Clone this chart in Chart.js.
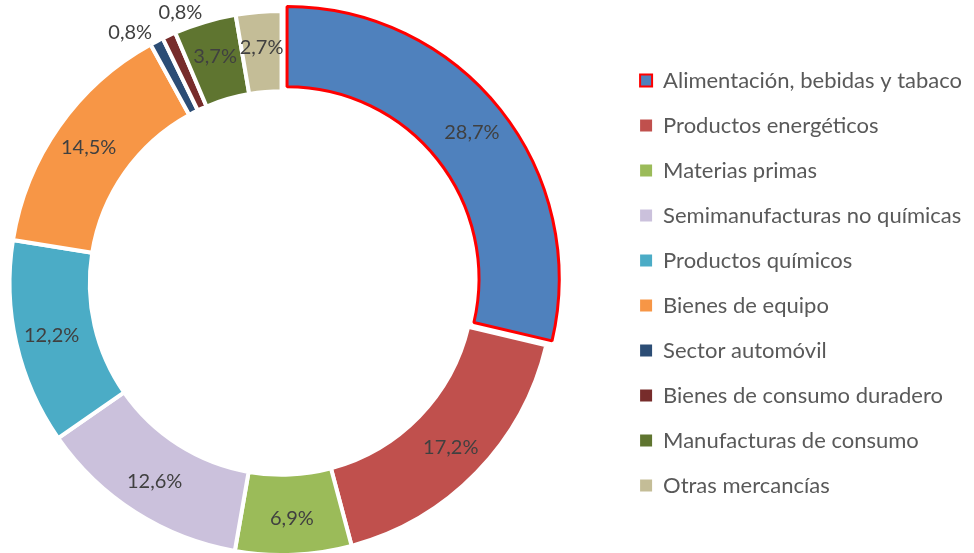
<!DOCTYPE html>
<html>
<head>
<meta charset="utf-8">
<script src="https://cdn.jsdelivr.net/npm/chart.js@4.4.1/dist/chart.umd.min.js"></script>
<style>
    html, body { margin: 0; padding: 0; background: #fff; overflow: hidden; }
    /* canvas is a bit wider than the window and pulled left, so the ring sits left of centre */
    #wrap { width: 1028px; height: 553px; position: absolute; left: -54px; top: 0; }
</style>
</head>
<body>
<div id="wrap"><canvas id="exportChart"></canvas></div>
<script>
// Export structure by product group (%)
var categories = [
    'Alimentación, bebidas y tabaco',
    'Productos energéticos',
    'Materias primas',
    'Semimanufacturas no químicas',
    'Productos químicos',
    'Bienes de equipo',
    'Sector automóvil',
    'Bienes de consumo duradero',
    'Manufacturas de consumo',
    'Otras mercancías'
];
var shares = [28.7, 17.2, 6.9, 12.6, 12.2, 14.5, 0.8, 0.8, 3.7, 2.7];
var sliceColors = ['#4F81BD', '#C0504D', '#9BBB59', '#CBC1DC', '#4BACC6',
                   '#F79646', '#2C4D75', '#772C2B', '#5F7530', '#C4BD97'];

var highlighted = 0; // slice pulled out with red outline

// Draws the percentage labels inside the ring (small slices go outside)
var sliceLabels = {
    id: 'sliceLabels',
    afterDatasetsDraw: function(chart) {
        var ctx = chart.ctx;
        var meta = chart.getDatasetMeta(0);
        var smallCount = 0;
        ctx.save();
        ctx.font = '20px Lato';
        ctx.fillStyle = '#404040';
        ctx.textBaseline = 'middle';
        meta.data.forEach(function(arc, i) {
            var p = arc.getProps(['x', 'y', 'startAngle', 'endAngle', 'innerRadius', 'outerRadius']);
            var mid = (p.startAngle + p.endAngle) / 2;
            var shift = (arc.options.offset || 0) / 4;
            var text = shares[i].toFixed(1).replace('.', ',') + '%';
            var r;
            if (shares[i] < 1) {
                // tiny slices: label just outside the ring, alternating sides
                r = p.outerRadius + (smallCount % 2 === 0 ? 10 : 25);
                ctx.textAlign = smallCount % 2 === 0 ? 'right' : 'left';
                smallCount++;
            } else {
                r = (p.innerRadius + p.outerRadius) / 2 + 4 + shift;
                ctx.textAlign = 'center';
            }
            ctx.fillText(text, p.x + Math.cos(mid) * r, p.y + Math.sin(mid) * r);
        });
        ctx.restore();
    }
};

var ctx = document.getElementById('exportChart');

new Chart(ctx, {
    type: 'doughnut',
    data: {
        labels: categories,
        datasets: [{
            data: shares,
            backgroundColor: sliceColors,
            borderColor: shares.map(function(v, i) { return i === highlighted ? '#FF0000' : '#FFFFFF'; }),
            borderWidth: shares.map(function(v, i) { return i === highlighted ? 3 : 4; }),
            offset: shares.map(function(v, i) { return i === highlighted ? 28 : 0; }),
            hoverOffset: 0
        }]
    },
    options: {
        responsive: true,
        maintainAspectRatio: false,
        animation: false,
        events: [],
        radius: 272,
        cutout: '70.5%',
        layout: {
            padding: { left: 0, top: 13, right: 2, bottom: 0 }
        },
        plugins: {
            tooltip: { enabled: false },
            legend: {
                position: 'right',
                labels: {
                    boxWidth: 12,
                    boxHeight: 12,
                    padding: 23,
                    color: '#595959',
                    font: { family: 'Lato', size: 22 },
                    generateLabels: function(chart) {
                        var items = Chart.overrides.doughnut.plugins.legend.labels.generateLabels(chart);
                        items.forEach(function(item, i) {
                            item.lineWidth = i === highlighted ? 2 : 0;
                        });
                        return items;
                    }
                }
            }
        }
    },
    plugins: [sliceLabels]
});
</script>
</body>
</html>
